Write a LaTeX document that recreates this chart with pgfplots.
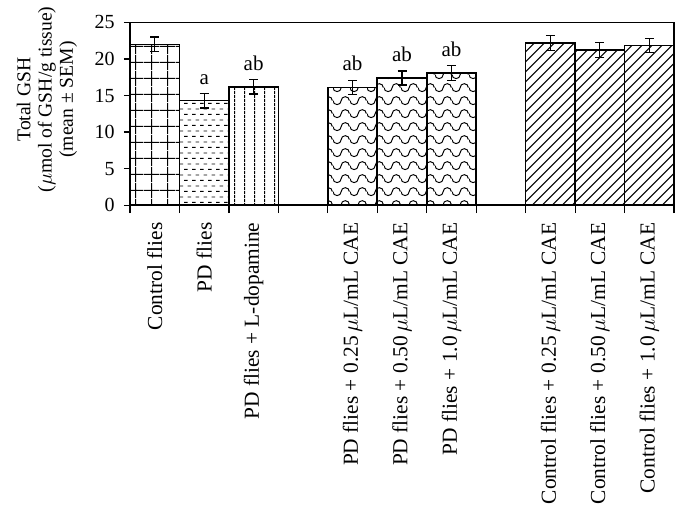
\documentclass[border=0pt]{standalone}
\usepackage{fontspec}
\setmainfont{Liberation Serif}
\usepackage{pgfplots}
\pgfplotsset{compat=1.18}
\usetikzlibrary{patterns}

\pgfdeclarepatternformonly{gridsq}{\pgfqpoint{0pt}{0pt}}{\pgfqpoint{8pt}{8pt}}{\pgfqpoint{8pt}{8pt}}{%
  \pgfsetlinewidth{0.5pt}%
  \pgfpathmoveto{\pgfqpoint{4pt}{0pt}}\pgfpathlineto{\pgfqpoint{4pt}{8pt}}%
  \pgfpathmoveto{\pgfqpoint{0pt}{4pt}}\pgfpathlineto{\pgfqpoint{8pt}{4pt}}%
  \pgfusepath{stroke}}
\pgfdeclarepatternformonly{dashrows}{\pgfqpoint{0pt}{0pt}}{\pgfqpoint{4pt}{5.4pt}}{\pgfqpoint{4pt}{5.4pt}}{%
  \pgfsetlinewidth{0.45pt}%
  \pgfpathmoveto{\pgfqpoint{0pt}{1.35pt}}\pgfpathlineto{\pgfqpoint{2pt}{1.35pt}}%
  \pgfpathmoveto{\pgfqpoint{2pt}{4.05pt}}\pgfpathlineto{\pgfqpoint{4pt}{4.05pt}}%
  \pgfusepath{stroke}}
\pgfdeclarepatternformonly{vlines}{\pgfqpoint{0pt}{0pt}}{\pgfqpoint{5pt}{2pt}}{\pgfqpoint{5pt}{2pt}}{%
  \pgfsetlinewidth{0.5pt}%
  \pgfpathmoveto{\pgfqpoint{2.5pt}{0pt}}\pgfpathlineto{\pgfqpoint{2.5pt}{2pt}}%
  \pgfusepath{stroke}}
\pgfdeclarepatternformonly{waves}{\pgfqpoint{0pt}{0pt}}{\pgfqpoint{8.33pt}{6.67pt}}{\pgfqpoint{8.33pt}{6.67pt}}{%
  \pgfsetlinewidth{0.5pt}%
  \pgfpathmoveto{\pgfqpoint{0pt}{3.33pt}}%
  \pgfpatharc{180}{360}{2.0825pt}%
  \pgfpatharc{180}{0}{2.0825pt}%
  \pgfusepath{stroke}}
\pgfdeclarepatternformonly{diag}{\pgfqpoint{-1pt}{-1pt}}{\pgfqpoint{6pt}{6pt}}{\pgfqpoint{5pt}{5pt}}{%
  \pgfsetlinewidth{0.5pt}%
  \pgfpathmoveto{\pgfqpoint{0pt}{0pt}}\pgfpathlineto{\pgfqpoint{5.1pt}{5.1pt}}%
  \pgfusepath{stroke}}

\newcommand{\xfont}{\fontsize{10.7}{12.8}\selectfont}

\begin{document}
\begin{tikzpicture}
\begin{axis}[
  name=ax,
  at={(0,0)}, anchor=south west,
  scale only axis, width=272pt, height=91.35pt,
  xmin=-0.5, xmax=10.5, ymin=0, ymax=25,
  ybar, bar width=1, bar shift=0pt,
  ytick={0,5,...,25},
  xtick={0,1,2,4,5,6,8,9,10},
  xticklabels={Control flies, PD flies, PD flies + L-dopamine,
    PD flies + 0.25\,$\mu$L/mL CAE, PD flies + 0.50\,$\mu$L/mL CAE, PD flies + 1.0\,$\mu$L/mL CAE,
    Control flies + 0.25\,$\mu$L/mL CAE, Control flies + 0.50\,$\mu$L/mL CAE, Control flies + 1.0\,$\mu$L/mL CAE},
  minor xtick={-0.5,0.5,...,10.5},
  major x tick style={draw=none},
  tick align=outside,
  xtick pos=left, ytick pos=left,
  major tick length=3pt,
  minor tick length=4pt,
  tick style={black, line width=0.6pt},
  axis line style={black, line width=0.7pt},
  /pgf/number format/assume math mode=true,
  xticklabel style={rotate=90, anchor=east, font=\xfont, inner sep=0pt},
  xticklabel shift=5.5pt,
  yticklabel style={font=\fontsize{10}{12}\selectfont},
  yticklabel shift=1.2pt,
  ylabel={Total GSH\\($\mu$mol of GSH/g tissue)\\(mean ± SEM)},
  every axis y label/.style={at={([xshift=-23pt]axis description cs:0,0.578)}, rotate=90, anchor=south, align=center, font=\fontsize{9.8}{10.6}\selectfont},
  every axis plot/.append style={draw=black, line width=0.8pt},
  error bars/error bar style={line width=0.6pt},
  error bars/error mark options={rotate=90, mark size=2.25pt, line width=0.6pt},
]
\addplot[pattern=gridsq, error bars/.cd, y dir=both, y explicit] coordinates {(0,22.0) +- (0,1.0)};
\addplot[pattern=dashrows, error bars/.cd, y dir=both, y explicit] coordinates {(1,14.3) +- (0,1.0)};
\addplot[pattern=vlines, error bars/.cd, y dir=both, y explicit] coordinates {(2,16.2) +- (0,1.0)};
\addplot[pattern=waves, error bars/.cd, y dir=both, y explicit] coordinates {(4,16.1) +- (0,1.0) (5,17.4) +- (0,0.95) (6,18.1) +- (0,1.0)};
\addplot[pattern=diag, error bars/.cd, y dir=both, y explicit] coordinates {(8,22.2) +- (0,1.05) (9,21.2) +- (0,1.0) (10,21.85) +- (0,1.0)};
\node[anchor=base, yshift=4.6pt, font=\fontsize{10.5}{12}\selectfont] at (axis cs:1,15.3) {a};
\node[anchor=base, yshift=4.6pt, font=\fontsize{10.5}{12}\selectfont] at (axis cs:2,17.2) {ab};
\node[anchor=base, yshift=4.6pt, font=\fontsize{10.5}{12}\selectfont] at (axis cs:4,17.1) {ab};
\node[anchor=base, yshift=4.6pt, font=\fontsize{10.5}{12}\selectfont] at (axis cs:5,18.35) {ab};
\node[anchor=base, yshift=4.6pt, font=\fontsize{10.5}{12}\selectfont] at (axis cs:6,19.1) {ab};
\end{axis}
\draw[black, line width=0.9pt] (ax.north west) -- (ax.north east) -- (ax.south east);
\path (-65pt,-156.15pt) rectangle (279pt,102.35pt);
\end{tikzpicture}
\end{document}
